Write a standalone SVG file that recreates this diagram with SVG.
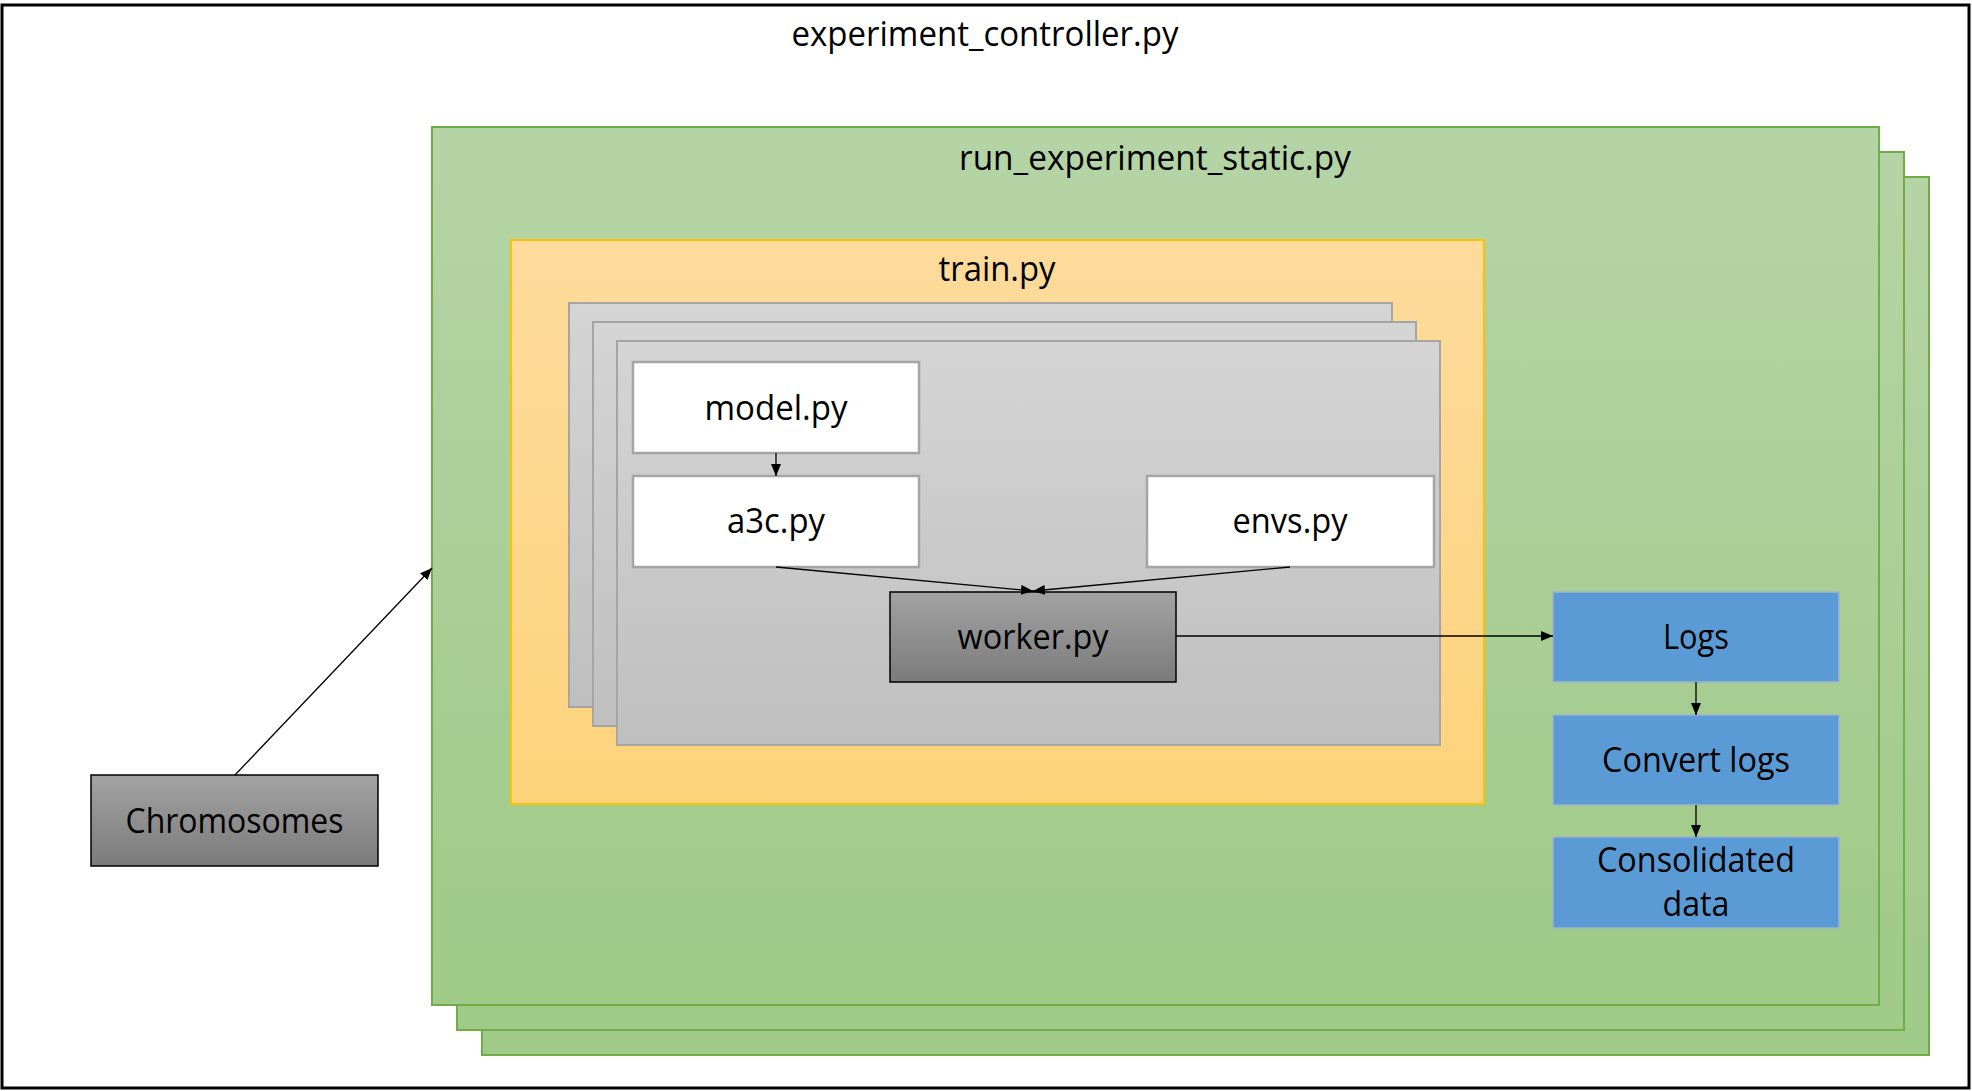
<svg xmlns="http://www.w3.org/2000/svg" width="1972" height="1091" viewBox="0 0 1972 1091">
<style>
text { font-family: "Open Sans", "Noto Sans", "Liberation Sans", sans-serif; font-size: 35px; fill: #000; text-anchor: middle; }
.green { fill: url(#gGreen); stroke: #70AD47; stroke-width: 2; }
.orange { fill: url(#gOrange); stroke: #FFC000; stroke-width: 2; }
.gray { fill: url(#gGray); stroke: #A5A5A5; stroke-width: 2; }
.white { fill: #FFFFFF; stroke: #A5A5A5; stroke-width: 2.5; }
.dark { fill: url(#gDark); stroke: #000; stroke-width: 1.5; }
.blue { fill: #5B9BD5; stroke: #9FB3C8; stroke-width: 1.5; }
.conn { stroke: #000; stroke-width: 1.3; fill: none; marker-end: url(#arrow); }
</style>
<defs>
<linearGradient id="gGreen" x1="0" y1="0" x2="0" y2="1">
<stop offset="0" stop-color="#B5D4A6"/><stop offset="1" stop-color="#9FCA87"/>
</linearGradient>
<linearGradient id="gOrange" x1="0" y1="0" x2="0" y2="1">
<stop offset="0" stop-color="#FEDB9C"/><stop offset="1" stop-color="#FED37C"/>
</linearGradient>
<linearGradient id="gGray" x1="0" y1="0" x2="0" y2="1">
<stop offset="0" stop-color="#D5D5D5"/><stop offset="1" stop-color="#BFBFBF"/>
</linearGradient>
<linearGradient id="gDark" x1="0" y1="0" x2="0" y2="1">
<stop offset="0" stop-color="#A2A2A2"/><stop offset="1" stop-color="#7B7B7B"/>
</linearGradient>
<marker id="arrow" markerUnits="userSpaceOnUse" markerWidth="12" markerHeight="10" refX="12" refY="5" orient="auto">
<path d="M0,0 L12,5 L0,10 Z" fill="#000"/>
</marker>
</defs>
<rect x="0" y="0" width="1972" height="1091" fill="#FFFFFF"/>

<g id="experiment_controller">
<rect x="2" y="5" width="1967" height="1083" fill="none" stroke="#000" stroke-width="3"/>
<text x="985" y="46" textLength="387" lengthAdjust="spacingAndGlyphs">experiment_controller.py</text>
</g>

<g id="run_experiment_static">
<rect class="green" x="482" y="177" width="1447" height="878"/>
<rect class="green" x="457" y="152" width="1447" height="878"/>
<rect class="green" x="432" y="127" width="1447" height="878"/>
<text x="1155" y="170" textLength="392" lengthAdjust="spacingAndGlyphs">run_experiment_static.py</text>
</g>

<g id="train">
<rect class="orange" x="511" y="240" width="973" height="564"/>
<text x="997" y="281" textLength="117" lengthAdjust="spacingAndGlyphs">train.py</text>
</g>

<g id="worker_stack">
<rect class="gray" x="569" y="303" width="823" height="404"/>
<rect class="gray" x="593" y="322" width="823" height="404"/>
<rect class="gray" x="617" y="341" width="823" height="404"/>
</g>

<g id="model">
<rect class="white" x="633" y="362" width="286" height="91"/>
<text x="776" y="420" textLength="143" lengthAdjust="spacingAndGlyphs">model.py</text>
</g>

<g id="a3c">
<rect class="white" x="633" y="476" width="286" height="91"/>
<text x="776" y="533" textLength="98" lengthAdjust="spacingAndGlyphs">a3c.py</text>
</g>

<g id="envs">
<rect class="white" x="1147" y="476" width="287" height="91"/>
<text x="1290" y="533" textLength="115" lengthAdjust="spacingAndGlyphs">envs.py</text>
</g>

<g id="worker">
<rect class="dark" x="890" y="592" width="286" height="90"/>
<text x="1033" y="649" textLength="151" lengthAdjust="spacingAndGlyphs">worker.py</text>
</g>

<g id="logs">
<rect class="blue" x="1553" y="592" width="286" height="90"/>
<text x="1696" y="649" textLength="66" lengthAdjust="spacingAndGlyphs">Logs</text>
</g>

<g id="convert_logs">
<rect class="blue" x="1553" y="715" width="286" height="90"/>
<text x="1696" y="772" textLength="188" lengthAdjust="spacingAndGlyphs">Convert logs</text>
</g>

<g id="consolidated_data">
<rect class="blue" x="1553" y="837" width="286" height="91"/>
<text x="1696" y="872" textLength="198" lengthAdjust="spacingAndGlyphs">Consolidated</text>
<text x="1696" y="916" textLength="67" lengthAdjust="spacingAndGlyphs">data</text>
</g>

<g id="chromosomes">
<rect class="dark" x="91" y="775" width="287" height="91"/>
<text x="234.5" y="833" textLength="218" lengthAdjust="spacingAndGlyphs">Chromosomes</text>
</g>

<g id="connectors">
<line class="conn" x1="776" y1="453" x2="776" y2="476"/>
<line class="conn" x1="776" y1="567" x2="1033" y2="591"/>
<line class="conn" x1="1290" y1="567" x2="1033" y2="591"/>
<line class="conn" x1="1176" y1="636" x2="1553" y2="636"/>
<line class="conn" x1="1696" y1="682" x2="1696" y2="715"/>
<line class="conn" x1="1696" y1="805" x2="1696" y2="837"/>
<line class="conn" x1="235" y1="775" x2="432" y2="568"/>
</g>
</svg>
